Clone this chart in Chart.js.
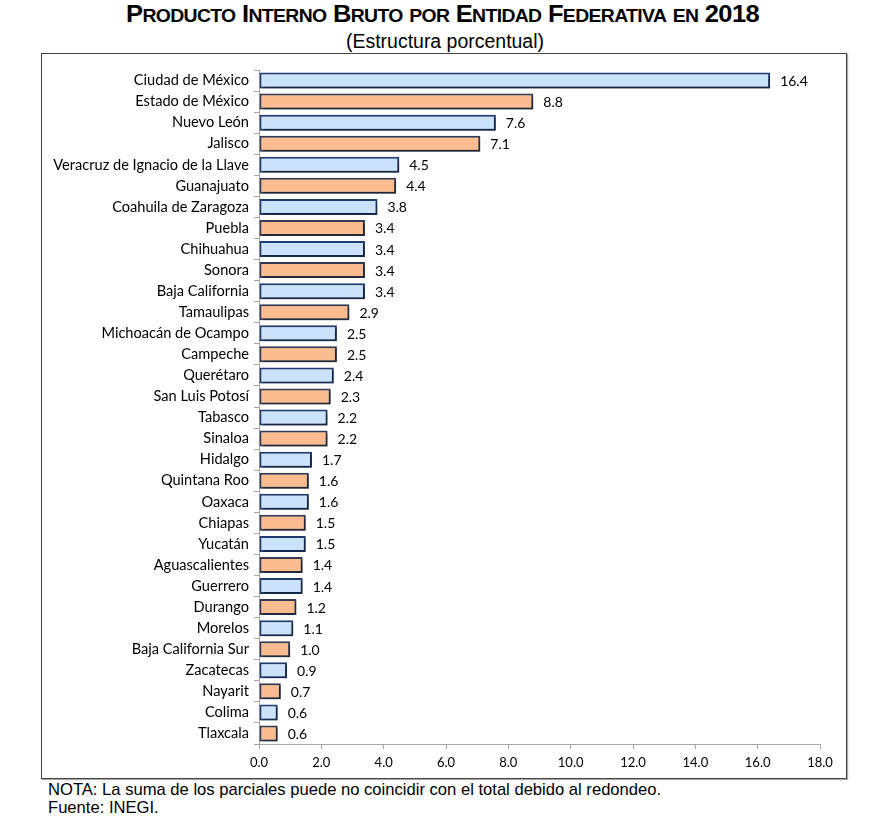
<!DOCTYPE html>
<html>
<head>
<meta charset="utf-8">
<script src="https://cdn.jsdelivr.net/npm/chart.js@4/dist/chart.umd.min.js"></script>
<style>
  html, body { margin: 0; padding: 0; background: #fff; }
  body { width: 882px; height: 837px; position: relative; overflow: hidden; }
  .fit { position: absolute; white-space: nowrap; transform-origin: 0 0; color: #000; }
  #title {
    top: 1px;
    font-family: "Liberation Sans", Arial, sans-serif;
    font-weight: bold; font-size: 23.5px; letter-spacing: -0.6px;
  }
  #title .s { font-size: 0.76em; text-transform: uppercase; }
  #subtitle {
    top: 30px;
    font-family: "Liberation Sans", Arial, sans-serif;
    font-size: 20px;
  }
  #frame {
    position: absolute; left: 41px; top: 53px; width: 804px; height: 724px;
    border: 1.5px solid #444; box-shadow: 1px 1px 1px #aaa;
  }
  #notes {
    position: absolute; left: 48px; top: 781px;
    font-family: "Liberation Sans", Arial, sans-serif; font-size: 16.6px; line-height: 17.5px; color: #000;
  }
</style>
</head>
<body>
<div id="title" class="fit">P<span class="s">roducto</span> I<span class="s">nterno</span> B<span class="s">ruto</span> <span class="s">por</span> E<span class="s">ntidad</span> F<span class="s">ederativa</span> <span class="s">en</span> 2018</div>
<div id="subtitle" class="fit">(Estructura porcentual)</div>
<div id="frame"><canvas id="pib-chart"></canvas></div>
<div id="notes">NOTA: La suma de los parciales puede no coincidir con el total debido al redondeo.<br>Fuente: INEGI.</div>
<script>
// Entidades, en el orden del gráfico
var entidades = ['Ciudad de México', 'Estado de México', 'Nuevo León', 'Jalisco',
    'Veracruz de Ignacio de la Llave', 'Guanajuato', 'Coahuila de Zaragoza', 'Puebla',
    'Chihuahua', 'Sonora', 'Baja California', 'Tamaulipas', 'Michoacán de Ocampo',
    'Campeche', 'Querétaro', 'San Luis Potosí', 'Tabasco', 'Sinaloa', 'Hidalgo',
    'Quintana Roo', 'Oaxaca', 'Chiapas', 'Yucatán', 'Aguascalientes', 'Guerrero',
    'Durango', 'Morelos', 'Baja California Sur', 'Zacatecas', 'Nayarit', 'Colima', 'Tlaxcala'];

// Porcentaje del PIB nacional
var porcentajes = [16.4, 8.8, 7.6, 7.1, 4.5, 4.4, 3.8, 3.4, 3.4, 3.4, 3.4, 2.9, 2.5,
    2.5, 2.4, 2.3, 2.2, 2.2, 1.7, 1.6, 1.6, 1.5, 1.5, 1.4, 1.4, 1.2, 1.1, 1.0, 0.9,
    0.7, 0.6, 0.6];

// Eje de valores
var escalaMin = 0;
var escalaMax = 18;
var escalaPaso = 2;

// ajusta el ancho del titulo y subtitulo al del original
function ajustar(id, x0, x1){
    var el = document.getElementById(id);
    var w = el.getBoundingClientRect().width;
    el.style.left = x0 + 'px';
    el.style.transform = 'scaleX(' + ((x1 - x0) / w) + ')';
}
ajustar('title', 126, 759);
ajustar('subtitle', 346, 544);

var fondoBarras = entidades.map(function(e, i){ return i % 2 === 0 ? '#cbe2fb' : '#fbbd90'; });
var bordeBarras = entidades.map(function(e, i){ return i % 2 === 0 ? '#1f3b70' : '#333a52'; });

// Sombra de las barras y etiquetas con el valor
var barrasPlugin = {
    id: 'barras',
    beforeDatasetDraw: function(chart){
        var c = chart.ctx;
        c.save();
        c.shadowColor = 'rgba(0,0,0,0.4)';
        c.shadowOffsetX = 2;
        c.shadowOffsetY = 2;
        c.shadowBlur = 2;
    },
    afterDatasetDraw: function(chart){
        chart.ctx.restore();
    },
    afterDatasetsDraw: function(chart){
        var c = chart.ctx;
        var meta = chart.getDatasetMeta(0);
        c.save();
        c.font = '14px Lato, "Open Sans", sans-serif';
        c.fillStyle = '#000';
        c.textAlign = 'left';
        c.textBaseline = 'middle';
        meta.data.forEach(function(bar, i){
            c.fillText(porcentajes[i].toFixed(1), bar.x + 10, bar.y + 1);
        });
        c.restore();
    }
};

var canvas = document.getElementById('pib-chart');
canvas.width = 804;
canvas.height = 724;

var grafica = new Chart(canvas, {
    type: 'bar',
    data: {
        labels: entidades,
        datasets: [{
            data: porcentajes,
            backgroundColor: fondoBarras,
            borderColor: bordeBarras,
            borderWidth: 2,
            borderSkipped: false,
            categoryPercentage: 1,
            barPercentage: 0.76
        }]
    },
    options: {
        indexAxis: 'y',
        responsive: false,
        animation: false,
        devicePixelRatio: 1,
        layout: { padding: { top: 16, right: 26, bottom: 0, left: 0 } },
        plugins: { legend: { display: false }, tooltip: { enabled: false } },
        scales: {
            x: {
                min: escalaMin,
                max: escalaMax,
                afterFit: function(s){ s.height = 34; },
                border: { color: '#a6a6a6', width: 1 },
                grid: { drawOnChartArea: false, color: '#a6a6a6', tickLength: 5 },
                ticks: {
                    stepSize: escalaPaso,
                    color: '#000',
                    padding: 6,
                    font: { family: 'Lato, "Open Sans", sans-serif', size: 13 },
                    callback: function(v){ return Number(v).toFixed(1); }
                }
            },
            y: {
                afterFit: function(s){ s.width = 217; },
                border: { color: '#a6a6a6', width: 1 },
                grid: { drawOnChartArea: false, offset: true, color: '#a6a6a6', tickLength: 5 },
                ticks: {
                    color: '#000',
                    padding: 5,
                    autoSkip: false,
                    font: { family: 'Lato, "Open Sans", sans-serif', size: 14.6 }
                }
            }
        }
    },
    plugins: [barrasPlugin]
});
</script>
</body>
</html>
